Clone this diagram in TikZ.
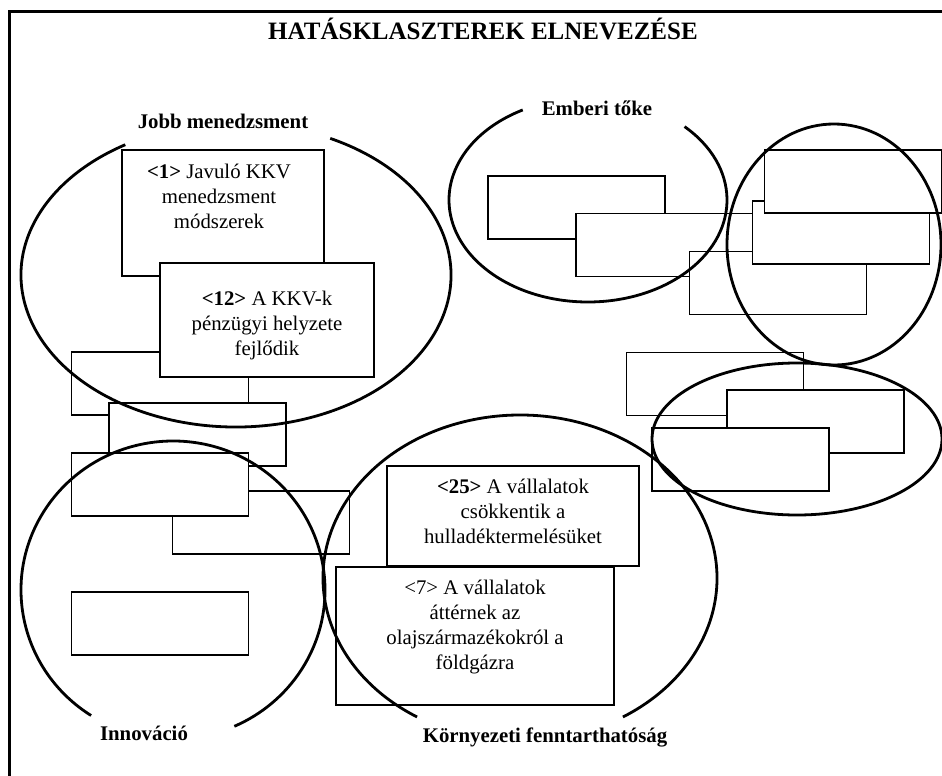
\documentclass[tikz,border=0pt]{standalone}
\usepackage{fontspec}
\setmainfont{Liberation Serif}
\tikzset{
  cbox/.style={draw, fill=white, line width=1.3pt, inner sep=0pt,
    minimum width=177pt, minimum height=63pt},
  ring/.style={line width=2.8pt},
  clabel/.style={font=\bfseries\fontsize{20.8}{25}\selectfont, inner sep=0pt, anchor=base},
  btext/.style={align=center, font=\fontsize{20.8}{25}\selectfont, inner sep=0pt, anchor=north}
}
\begin{document}
\begin{tikzpicture}[x=1pt,y=-1pt]
\fill[white] (0,0) rectangle (942,776);
\useasboundingbox (0,0) rectangle (942,776);

% outer frame
\draw[line width=3pt] (9,776) -- (9,12) -- (942,12);

\node[font=\bfseries\fontsize{25}{30}\selectfont, inner sep=0pt, anchor=base] (title) at (483,40) {HATÁSKLASZTEREK ELNEVEZÉSE};

% left cluster of boxes
\node[cbox] (bA) at (160,383.5) {};
\node[cbox, minimum width=202pt, minimum height=126pt] (b1) at (223,213) {};
\node[cbox, minimum width=214pt, minimum height=114pt] (b12) at (267,320) {};
\node[cbox] (bB) at (197.5,434.5) {};
\node[cbox] (bD) at (261,522.5) {};
\node[cbox] (bC) at (160,484.5) {};
\node[cbox] (bE) at (160,623.5) {};

% middle boxes
\node[cbox, minimum width=252pt, minimum height=100pt] (b25) at (513,516) {};
\node[cbox, minimum width=278pt, minimum height=138pt] (b7) at (475,636) {};

% right cluster of boxes
\node[cbox] (bI) at (576.5,207.5) {};
\node[cbox] (bJ) at (664.5,245) {};
\node[cbox] (bK) at (778,283) {};
\node[cbox] (bL) at (841,232.5) {};
\node[cbox] (bM) at (853,181.5) {};
\node[cbox] (bF) at (715,384) {};
\node[cbox] (bG) at (815.5,421.5) {};
\node[cbox] (bH) at (740.5,459.5) {};

% box texts
\node[btext] (t1) at (219,163.7) {\textbf{<1>} Javuló KKV\\menedzsment\\módszerek};
\node[btext] (t12) at (267,290.7) {\textbf{<12>} A KKV-k\\pénzügyi helyzete\\fejlődik};
\node[btext] (t25) at (513,478.7) {\textbf{<25>} A vállalatok\\csökkentik a\\hulladéktermelésüket};
\node[btext] (t7) at (475,579.7) {<7> A vállalatok\\áttérnek az\\olajszármazékokról a\\földgázra};

% cluster outlines
\draw[ring] (236,275) ++(-64:215 and 152) arc[start angle=-64, end angle=239, x radius=215, y radius=152];
\draw[ring] (588,200) ++(-46:139 and 102) arc[start angle=-46, end angle=242, x radius=139, y radius=102];
\draw[ring] (834,244.5) ellipse[x radius=107, y radius=120.5];
\draw[ring] (797,439) ellipse[x radius=145, y radius=76];
\draw[ring] (173,590) ++(122.6:152 and 149) arc[start angle=122.6, end angle=426.2, x radius=152, y radius=149];
\draw[ring] (520,578) ++(121.5:197 and 163) arc[start angle=121.5, end angle=418.5, x radius=197, y radius=163];

% cluster names
\node[clabel] (lJobb) at (223,128) {Jobb menedzsment};
\node[clabel] (lEmb) at (597,115) {Emberi tőke};
\node[clabel] (lInn) at (144,740) {Innováció};
\node[clabel] (lKor) at (545,742) {Környezeti fenntarthatóság};
\end{tikzpicture}
\end{document}
